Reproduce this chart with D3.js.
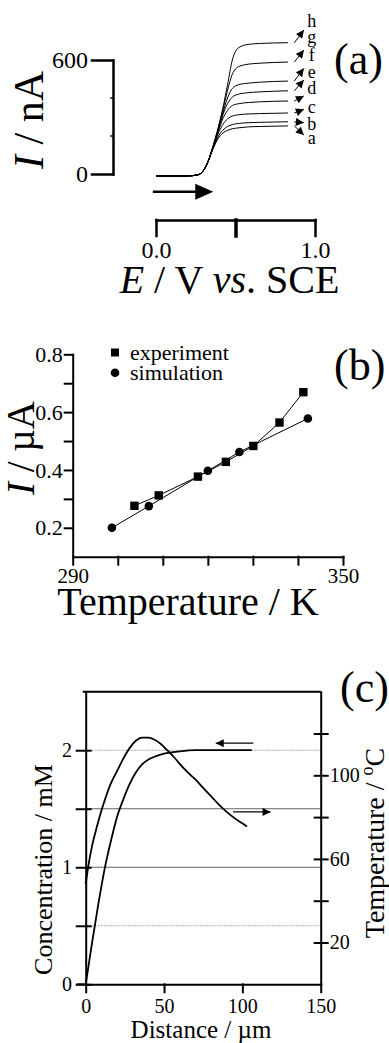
<!DOCTYPE html>
<html>
<head>
<meta charset="utf-8">
<script src="https://cdn.jsdelivr.net/npm/d3@7"></script>
<style>
  body { margin: 0; background: #fff; }
  svg { display: block; font-family: "Liberation Serif", "Times New Roman", serif; }
  .ax path, .ax line { stroke: #000; stroke-linecap: square; }
  .ax text { fill: #000; }
</style>
</head>
<body>
<svg id="fig" width="389" height="1043"></svg>
<script>
// ---- panel (a): voltammograms
var potential = [0.00, 0.20, 0.26, 0.30, 0.33, 0.36, 0.39, 0.42, 0.45, 0.48, 0.52, 0.58, 0.65, 0.83];
var curveNames = ["a", "b", "c", "d", "e", "f", "g", "h"];
var currentNA = [
  [-10, -10, -5, 20, 70, 135, 185, 215, 230, 238, 243, 248, 250, 253],
  [-10, -10, -5, 20, 70, 138, 195, 230, 250, 260, 266, 270, 272, 275],
  [-10, -10, -5, 20, 72, 142, 210, 260, 290, 305, 312, 316, 318, 321],
  [-10, -10, -5, 20, 72, 145, 220, 290, 335, 360, 370, 376, 380, 384],
  [-10, -10, -5, 20, 72, 145, 225, 310, 370, 405, 420, 428, 432, 438],
  [-10, -10, -5, 20, 72, 148, 230, 320, 400, 450, 470, 478, 483, 489],
  [-10, -10, -5, 20, 72, 150, 235, 335, 440, 525, 565, 578, 583, 589],
  [-10, -10, -5, 20, 72, 150, 240, 345, 470, 600, 665, 682, 687, 691]
];
var labelNA = [189, 264, 354, 453, 537, 626, 721, 805];
var arrowNA = [205, 270, 341, 411, 495, 556, 653, 758];
var sweepE = [-0.02, 0.36], sweepNA = -93;

// ---- panel (b): limiting current vs temperature
var expTemp = [303.7, 309.1, 317.8, 324.0, 330.1, 335.9, 341.2];
var expCurrent = [0.276, 0.312, 0.377, 0.428, 0.483, 0.564, 0.669];
var simTemp = [298.7, 306.9, 320.0, 327.0, 342.2];
var simCurrent = [0.200, 0.275, 0.397, 0.462, 0.578];

// ---- panel (c): profiles vs distance
var concDist = [0, 4, 8, 12, 16, 20, 24, 28, 32, 36, 40, 45, 50, 60, 70, 106];
var concMM = [0, 0.35, 0.68, 0.98, 1.22, 1.43, 1.58, 1.71, 1.81, 1.88, 1.92, 1.95, 1.97, 1.99, 2.0, 2.0];
var tempDist = [0, 2, 4, 7, 10, 13, 16, 20, 24, 28, 32, 36, 40, 44, 48, 52, 56, 60, 65, 70, 75, 80, 85, 90, 95, 100, 103];
var tempC = [48, 58, 66, 75, 83, 90, 96, 102, 108, 113, 116.5, 118, 118, 117, 115, 112, 109, 105.5, 101.5, 98, 94, 90, 86, 82.5, 79.5, 77, 75.5];

var svg = d3.select("#fig");
var defs = svg.append("defs");
defs.append("marker").attr("id", "head")
    .attr("viewBox", "0 0 10 10").attr("refX", 10).attr("refY", 5)
    .attr("markerWidth", 9).attr("markerHeight", 8).attr("markerUnits", "userSpaceOnUse")
    .attr("orient", "auto")
  .append("path").attr("d", "M0,0L10,5L0,10z").attr("fill", "#000");

function styleAxis(g, size, width) {
  g.attr("class", "ax").attr("font-family", null).attr("font-size", size);
  g.selectAll("path, line").attr("stroke-width", width);
  // unlabeled ticks: drop their empty text nodes
  g.selectAll(".tick text").filter(function () { return this.textContent === ""; }).remove();
  return g;
}

// ================= (a)
var xA = d3.scaleLinear([0, 1], [156, 315]);
var yA = d3.scaleLinear([0, 600], [174, 60]);

var axA = svg.append("g").attr("transform", "translate(0,220)")
  .call(d3.axisBottom(xA).tickValues([0, 0.5, 1]).tickSize(16).tickSizeOuter(0).tickPadding(5)
    .tickFormat(d => d === 0.5 ? "" : d3.format(".1f")(d)));
styleAxis(axA, 24, 2.5);
axA.selectAll(".tick").filter(d => d === 0.5).select("line").attr("stroke-width", 3.5);

var ayA = svg.append("g").attr("transform", "translate(113,0)")
  .call(d3.axisLeft(yA).tickValues([0, 600]).tickSize(21).tickSizeOuter(0).tickPadding(4));
styleAxis(ayA, 24, 2.5);
ayA.selectAll(".minor").data([200, 400]).enter().append("line")
  .attr("x1", -2).attr("x2", 0).attr("y1", d => yA(d)).attr("y2", d => yA(d))
  .attr("stroke", "#000").attr("stroke-width", 1.5);

var lineA = d3.line().x((d, i) => xA(potential[i])).y(d => yA(d)).curve(d3.curveMonotoneX);
svg.append("g").selectAll("path").data(currentNA).enter().append("path")
  .attr("d", lineA).attr("fill", "none").attr("stroke", "#000").attr("stroke-width", 1);

var lastE = potential[potential.length - 1];
svg.append("g").selectAll("line").data(currentNA).enter().append("line")
  .attr("x1", xA(lastE + 0.04)).attr("y1", d => yA(d[d.length - 1]))
  .attr("x2", xA(0.93)).attr("y2", (d, i) => yA(arrowNA[i]))
  .attr("stroke", "#000").attr("stroke-width", 1).attr("marker-end", "url(#head)");
svg.append("g").selectAll("text").data(curveNames).enter().append("text")
  .attr("x", xA(0.98)).attr("y", (d, i) => yA(labelNA[i])).attr("dy", "0.35em")
  .attr("text-anchor", "middle").attr("font-size", 18).text(d => d);

// sweep direction arrow
svg.append("line")
  .attr("x1", xA(sweepE[0])).attr("x2", xA(sweepE[1]) - 16)
  .attr("y1", yA(sweepNA)).attr("y2", yA(sweepNA))
  .attr("stroke", "#000").attr("stroke-width", 2.5);
svg.append("path")
  .attr("d", `M${xA(sweepE[1])},${yA(sweepNA)}L${xA(sweepE[1]) - 18},${yA(sweepNA) - 8}L${xA(sweepE[1]) - 18},${yA(sweepNA) + 8}z`)
  .attr("fill", "#000");

var tA = svg.append("text").attr("transform", "translate(43,120) rotate(-90)")
  .attr("text-anchor", "middle").attr("font-size", 42);
tA.append("tspan").attr("font-style", "italic").text("I");
tA.append("tspan").text(" / nA");

var eA = svg.append("text").attr("x", 229.5).attr("y", 293)
  .attr("text-anchor", "middle").attr("font-size", 40);
eA.append("tspan").attr("font-style", "italic").text("E");
eA.append("tspan").text(" / V ");
eA.append("tspan").attr("font-style", "italic").text("vs");
eA.append("tspan").text(". SCE");

svg.append("text").attr("x", 334).attr("y", 74).attr("font-size", 44).text("(a)");

// ================= (b)
var xB = d3.scaleLinear([290, 350], [72.7, 343]);
var yB = d3.scaleLinear([0.1, 0.8], [556.7, 354.3]);

var axB = svg.append("g").attr("transform", "translate(0,556.7)")
  .call(d3.axisBottom(xB).tickValues(d3.range(290, 351, 10)).tickSize(8).tickSizeOuter(0).tickPadding(3)
    .tickFormat(d => (d === 290 || d === 350) ? d : ""));
styleAxis(axB, 21, 2);

var ayB = svg.append("g").attr("transform", "translate(72.7,0)")
  .call(d3.axisLeft(yB).tickValues([0.2, 0.3, 0.4, 0.5, 0.6, 0.7, 0.8]).tickSize(8).tickSizeOuter(0).tickPadding(2)
    .tickFormat(d => [0.2, 0.4, 0.6, 0.8].includes(d) ? d3.format(".1f")(d) : ""));
styleAxis(ayB, 22, 2);

var lineExp = d3.line().x((d, i) => xB(expTemp[i])).y(d => yB(d));
var lineSim = d3.line().x((d, i) => xB(simTemp[i])).y(d => yB(d));
svg.append("path").attr("d", lineExp(expCurrent)).attr("fill", "none").attr("stroke", "#000").attr("stroke-width", 1);
svg.append("path").attr("d", lineSim(simCurrent)).attr("fill", "none").attr("stroke", "#000").attr("stroke-width", 1);

svg.append("g").selectAll("rect").data(expCurrent).enter().append("rect")
  .attr("x", (d, i) => xB(expTemp[i]) - 4.2).attr("y", d => yB(d) - 4.2)
  .attr("width", 8.4).attr("height", 8.4).attr("fill", "#000");
svg.append("g").selectAll("circle").data(simCurrent).enter().append("circle")
  .attr("cx", (d, i) => xB(simTemp[i])).attr("cy", d => yB(d)).attr("r", 4.3).attr("fill", "#000");

// legend
svg.append("rect").attr("x", 111).attr("y", 348.5).attr("width", 8).attr("height", 8).attr("fill", "#000");
svg.append("text").attr("x", 130).attr("y", 360).attr("font-size", 22).text("experiment");
svg.append("circle").attr("cx", 115).attr("cy", 372.7).attr("r", 4.3).attr("fill", "#000");
svg.append("text").attr("x", 130).attr("y", 380).attr("font-size", 22).text("simulation");

var tB = svg.append("text").attr("transform", "translate(34,448) rotate(-90)")
  .attr("text-anchor", "middle").attr("font-size", 39);
tB.append("tspan").attr("font-style", "italic").text("I");
tB.append("tspan").text(" / \u00b5A");

svg.append("text").attr("x", 188).attr("y", 615).attr("text-anchor", "middle")
  .attr("font-size", 40).text("Temperature / K");
svg.append("text").attr("x", 334).attr("y", 380).attr("font-size", 44).text("(b)");

// ================= (c)
var xC = d3.scaleLinear([0, 150], [85.7, 320.7]);
var yC = d3.scaleLinear([0, 2.5], [984.3, 691.7]);
var yT = d3.scaleLinear([0, 140], [984.3, 691.7]);

svg.append("g").selectAll("line").data([0.5, 1, 1.5, 2]).enter().append("line")
  .attr("x1", xC(0)).attr("x2", xC(150)).attr("y1", d => yC(d)).attr("y2", d => yC(d))
  .attr("stroke", d => (d === 1 || d === 1.5) ? "#666" : "#aaa").attr("stroke-width", 1)
  .attr("stroke-dasharray", d => (d === 1 || d === 1.5) ? null : "2,1");

var axC = svg.append("g").attr("transform", "translate(0,984.3)")
  .call(d3.axisBottom(xC).tickValues([0, 50, 100, 150]).tickSize(8).tickSizeOuter(0).tickPadding(6.5));
styleAxis(axC, 20, 2);

var ayC = svg.append("g").attr("transform", "translate(85.7,0)")
  .call(d3.axisLeft(yC).tickValues([0, 0.5, 1, 1.5, 2]).tickSize(9).tickSizeOuter(0).tickPadding(4.7)
    .tickFormat(d => Number.isInteger(d) ? d : ""));
styleAxis(ayC, 20, 2);
ayC.selectAll(".tick line").attr("x1", 5);

var ayT = svg.append("g").attr("transform", "translate(320.7,0)")
  .call(d3.axisRight(yT).tickValues([20, 40, 60, 80, 100, 120]).tickSize(7).tickSizeOuter(0).tickPadding(2)
    .tickFormat(d => (d % 40 === 20) ? d : ""));
styleAxis(ayT, 20, 2);
ayT.selectAll(".tick line").attr("x1", -6);

// frame top and axis extension
svg.append("line").attr("x1", xC(0) - 3).attr("x2", xC(150)).attr("y1", yC(2.5)).attr("y2", yC(2.5))
  .attr("stroke", "#000").attr("stroke-width", 2);
svg.append("line").attr("x1", xC(0) - 9).attr("x2", xC(0)).attr("y1", yC(0)).attr("y2", yC(0))
  .attr("stroke", "#000").attr("stroke-width", 2);

var lineConc = d3.line().x((d, i) => xC(concDist[i])).y(d => yC(d)).curve(d3.curveMonotoneX);
var lineTemp = d3.line().x((d, i) => xC(tempDist[i])).y(d => yT(d)).curve(d3.curveMonotoneX);
svg.append("path").attr("d", lineConc(concMM)).attr("fill", "none").attr("stroke", "#000").attr("stroke-width", 1.8);
svg.append("path").attr("d", lineTemp(tempC)).attr("fill", "none").attr("stroke", "#000").attr("stroke-width", 1.8);

// axis-pointer arrows
svg.append("line").attr("x1", xC(107)).attr("x2", xC(83)).attr("y1", yC(2.06)).attr("y2", yC(2.06))
  .attr("stroke", "#000").attr("stroke-width", 1.2).attr("marker-end", "url(#head)");
svg.append("line").attr("x1", xC(94)).attr("x2", xC(118)).attr("y1", yT(82.5)).attr("y2", yT(82.5))
  .attr("stroke", "#000").attr("stroke-width", 1.2).attr("marker-end", "url(#head)");

svg.append("text").attr("transform", "translate(52,869.5) rotate(-90)")
  .attr("text-anchor", "middle").attr("font-size", 26).text("Concentration / mM");
svg.append("text").attr("x", 201).attr("y", 1038).attr("text-anchor", "middle")
  .attr("font-size", 25).text("Distance / \u00b5m");
var tC = svg.append("text").attr("transform", "translate(384,843) rotate(-90)")
  .attr("text-anchor", "middle").attr("font-size", 28);
tC.append("tspan").text("Temperature / ");
tC.append("tspan").attr("font-size", 18).attr("dy", -11).text("o");
tC.append("tspan").attr("dy", 11).text("C");
svg.append("text").attr("x", 340).attr("y", 702).attr("font-size", 44).text("(c)");
</script>
</body>
</html>
